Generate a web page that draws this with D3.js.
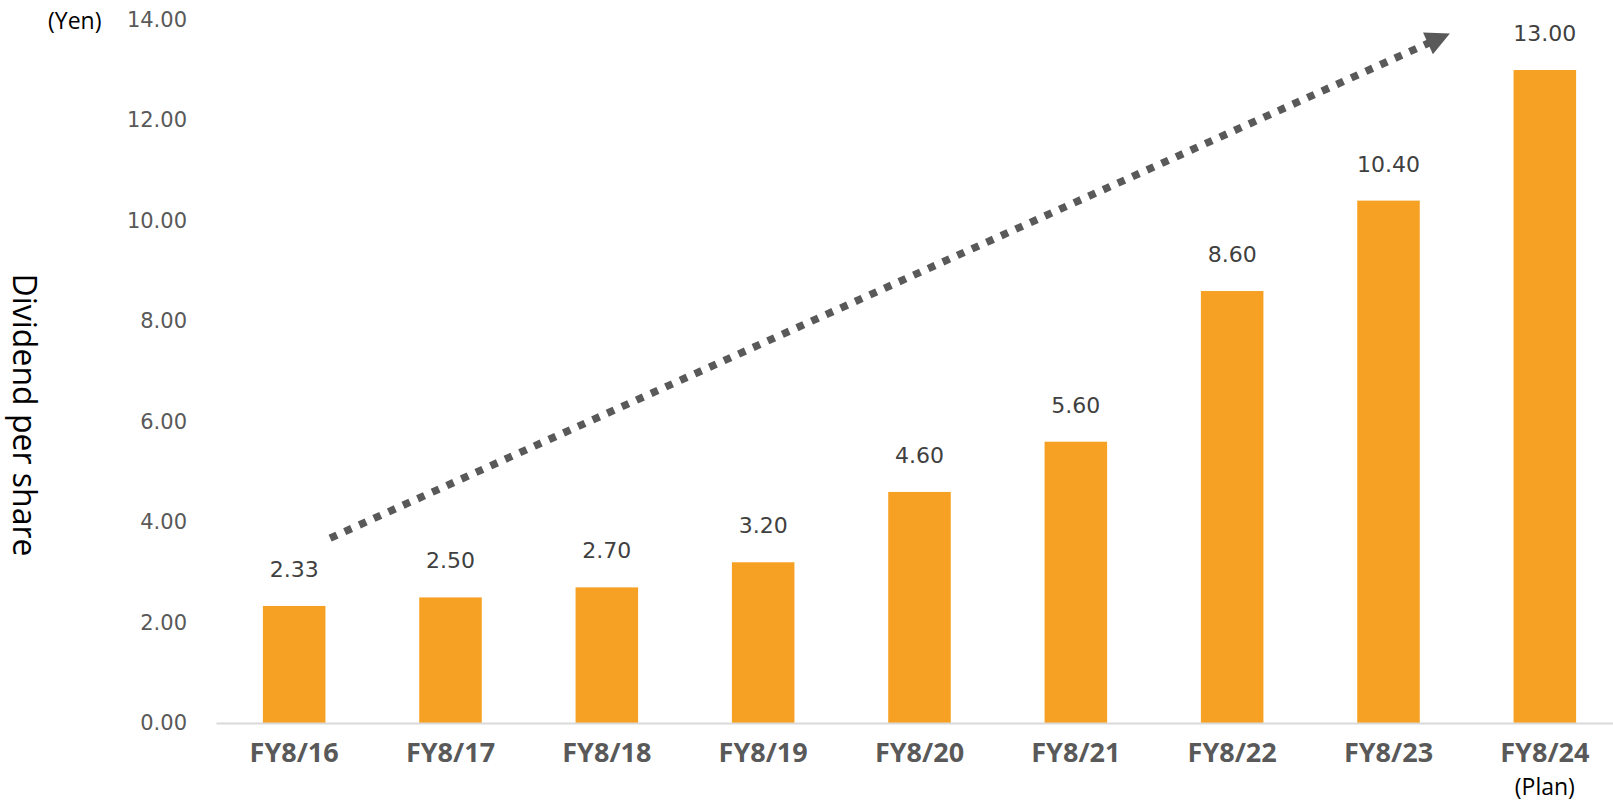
<!DOCTYPE html>
<html>
<head>
<meta charset="utf-8">
<script src="https://cdn.jsdelivr.net/npm/d3@7/dist/d3.min.js"></script>
<style>
  body { margin: 0; background: #fff; }
  svg { display: block; }
</style>
</head>
<body>
<div id="chart"></div>
<script>
var w = 1613,
	h = 803;

// chart data
var years = ["FY8/16", "FY8/17", "FY8/18", "FY8/19", "FY8/20", "FY8/21", "FY8/22", "FY8/23", "FY8/24"];
var dividends = [2.33, 2.50, 2.70, 3.20, 4.60, 5.60, 8.60, 10.40, 13.00];
var yTicks = [0, 2, 4, 6, 8, 10, 12, 14];
// trend arrow, in (category index, value) terms
var trendIdx = [0.23, 7.37];
var trendVal = [3.68, 13.7];

var plotLeft = 216, plotRight = 1623, plotBase = 723, plotTop = 19.8;

var root = d3.select("#chart").append("svg").attr("width", w).attr("height", h);

var x = d3.scaleBand().domain(years).range([plotLeft, plotRight]).paddingInner(0.6).paddingOuter(0.3);
var xi = d3.scaleLinear().domain([0, years.length - 1])
	.range([x(years[0]) + x.bandwidth() / 2, x(years[years.length - 1]) + x.bandwidth() / 2]);
var y = d3.scaleLinear().domain([0, 14]).range([plotBase, plotTop]);

// y axis labels
var yAxis = d3.axisLeft(y).tickValues(yTicks).tickFormat(d3.format(".2f")).tickSize(0).tickPadding(0);
var ya = root.append("g").attr("transform", "translate(187,0)").call(yAxis);
ya.select(".domain").remove();
ya.selectAll("text").style("font-family", "DejaVu Sans").style("font-size", "21px").style("fill", "#595959");

// bars
root.selectAll("rect.bar").data(dividends).enter().append("rect")
	.attr("class", "bar")
	.attr("x", function(d, i) { return x(years[i]); })
	.attr("y", function(d) { return y(d); })
	.attr("width", x.bandwidth())
	.attr("height", function(d) { return plotBase - y(d); })
	.style("fill", "#F6A123");

// baseline
var xAxis = d3.axisBottom(x).tickSize(0).tickPadding(20);
var xa = root.append("g").attr("transform", "translate(0," + plotBase + ")").call(xAxis);
xa.select(".domain").attr("stroke", "#D9D9D9").attr("stroke-width", 2);
xa.selectAll("text").style("font-family", "Open Sans").style("font-weight", "bold")
	.style("font-size", "27px").style("fill", "#595959");

root.append("text").attr("x", x(years[8]) + x.bandwidth() / 2).attr("y", 795)
	.attr("text-anchor", "middle").style("font-family", "Open Sans").style("font-size", "23px")
	.style("fill", "#000").text("(Plan)");

// value labels
root.selectAll("text.val").data(dividends).enter().append("text")
	.attr("class", "val")
	.attr("x", function(d, i) { return x(years[i]) + x.bandwidth() / 2; })
	.attr("y", function(d) { return y(d) - 29; })
	.attr("text-anchor", "middle")
	.style("font-family", "DejaVu Sans").style("font-size", "22px").style("fill", "#404040")
	.text(function(d) { return d3.format(".2f")(d); });

// unit + axis title
root.append("text").attr("x", 48).attr("y", 29).style("font-family", "Open Sans")
	.style("font-size", "23px").style("fill", "#000").text("(Yen)");

root.append("text").attr("transform", "translate(13,415) rotate(90)")
	.attr("text-anchor", "middle").style("font-family", "Open Sans").style("font-size", "32px")
	.style("fill", "#000").text("Dividend per share");

// trend arrow
root.append("defs").append("marker").attr("id", "head")
	.attr("viewBox", "0 0 10 10").attr("refX", 2).attr("refY", 5)
	.attr("markerWidth", 3.4).attr("markerHeight", 3.2).attr("orient", "auto")
	.attr("markerUnits", "strokeWidth")
	.append("path").attr("d", "M0,0L10,5L0,10Z").style("fill", "#595959");

root.append("line")
	.attr("x1", xi(trendIdx[0])).attr("y1", y(trendVal[0]))
	.attr("x2", xi(trendIdx[1]) - 14).attr("y2", y(trendVal[1]) + 6.5)
	.style("stroke", "#595959").style("stroke-width", 7.5)
	.style("stroke-dasharray", "7.5,8.5")
	.attr("marker-end", "url(#head)");
</script>
</body>
</html>
